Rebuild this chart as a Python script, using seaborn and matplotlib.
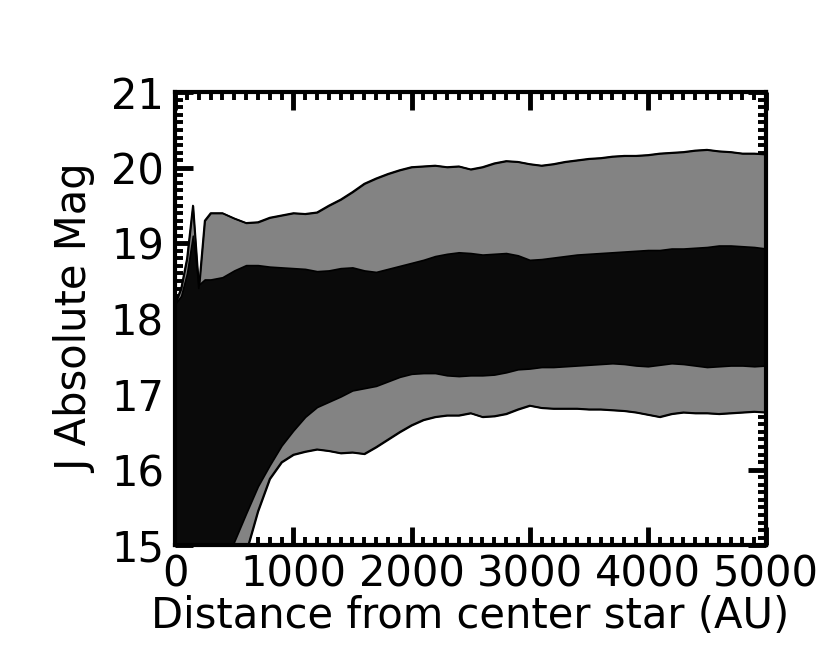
import numpy as np
import pandas as pd
import matplotlib
matplotlib.use("Agg")
import matplotlib.pyplot as plt
import seaborn as sns
from matplotlib.ticker import MultipleLocator

# Distância ao centro (AU) e limites das bandas de magnitude
distancia = [0, 50, 100, 150, 200, 250, 300, 400, 500, 600, 700, 800, 900,
             1000, 1100, 1200, 1300, 1400, 1500, 1600, 1700, 1800, 1900,
             2000, 2100, 2200, 2300, 2400, 2500, 2600, 2700, 2800, 2900,
             3000, 3100, 3200, 3300, 3400, 3500, 3600, 3700, 3800, 3900,
             4000, 4100, 4200, 4300, 4400, 4500, 4600, 4700, 4800, 4900, 5000]

# banda externa (cinza) - limite superior
externa_sup = [18.2, 18.4, 18.8, 19.5, 18.4, 19.3, 19.40, 19.40, 19.33, 19.27,
               19.28, 19.34, 19.37, 19.40, 19.39, 19.41, 19.50, 19.58, 19.68,
               19.79, 19.86, 19.92, 19.97, 20.01, 20.02, 20.03, 20.01, 20.02,
               19.98, 20.01, 20.06, 20.09, 20.08, 20.05, 20.03, 20.05, 20.08,
               20.10, 20.12, 20.13, 20.15, 20.16, 20.16, 20.17, 20.19, 20.20,
               20.21, 20.23, 20.24, 20.22, 20.21, 20.19, 20.19, 20.18]

# banda interna (preta) - limite superior
interna_sup = [18.2, 18.3, 18.6, 19.1, 18.45, 18.52, 18.52, 18.55, 18.64, 18.71,
               18.71, 18.69, 18.68, 18.67, 18.66, 18.63, 18.64, 18.67, 18.68,
               18.64, 18.62, 18.66, 18.70, 18.74, 18.78, 18.83, 18.86, 18.88,
               18.87, 18.85, 18.86, 18.87, 18.84, 18.78, 18.79, 18.81, 18.83,
               18.85, 18.86, 18.87, 18.88, 18.89, 18.90, 18.91, 18.91, 18.93,
               18.93, 18.94, 18.95, 18.97, 18.97, 18.96, 18.95, 18.93]

# banda interna (preta) - limite inferior
interna_inf = [13.8, 13.9, 13.9, 14.0, 14.1, 14.2, 14.3, 14.6, 15.05, 15.42,
               15.78, 16.06, 16.32, 16.52, 16.70, 16.83, 16.90, 16.97, 17.05,
               17.08, 17.11, 17.17, 17.23, 17.27, 17.28, 17.28, 17.25, 17.24,
               17.25, 17.25, 17.26, 17.29, 17.33, 17.34, 17.36, 17.36, 17.37,
               17.38, 17.39, 17.40, 17.41, 17.40, 17.38, 17.37, 17.39, 17.41,
               17.40, 17.38, 17.36, 17.37, 17.38, 17.38, 17.37, 17.38]

# banda externa (cinza) - limite inferior
externa_inf = [13.5, 13.5, 13.6, 13.6, 13.7, 13.8, 13.9, 14.1, 14.4, 14.9,
               15.45, 15.88, 16.10, 16.20, 16.24, 16.27, 16.25, 16.22, 16.23,
               16.21, 16.30, 16.40, 16.50, 16.59, 16.66, 16.70, 16.72, 16.72,
               16.75, 16.70, 16.71, 16.74, 16.80, 16.85, 16.82, 16.81, 16.81,
               16.81, 16.80, 16.80, 16.79, 16.78, 16.76, 16.73, 16.70, 16.74,
               16.76, 16.75, 16.75, 16.74, 16.75, 16.76, 16.77, 16.76]

df = pd.DataFrame({
    "dist": distancia,
    "ext_sup": externa_sup,
    "ext_inf": externa_inf,
    "int_sup": interna_sup,
    "int_inf": interna_inf,
})

sns.set_theme(style="ticks")
plt.rcParams.update({
    "font.family": ["DejaVu Sans"],
    "font.size": 30,
    "text.color": "black",
    "axes.labelcolor": "black",
    "xtick.color": "black",
    "ytick.color": "black",
    "axes.edgecolor": "black",
})

fig = plt.figure(figsize=(8.3, 6.64), dpi=100)
ax = fig.add_axes([0.211, 0.179, 0.712, 0.682])

# banda externa cinza com contorno preto
ax.fill_between(df["dist"], df["ext_inf"], df["ext_sup"],
                facecolor="#838383", edgecolor="black", linewidth=1.2, zorder=1)
# banda interna preta
ax.fill_between(df["dist"], df["int_inf"], df["int_sup"],
                facecolor="#0a0a0a", edgecolor="black", linewidth=1.2, zorder=2)

for col in ["ext_sup", "ext_inf"]:
    sns.lineplot(x="dist", y=col, data=df, color="black", linewidth=1.2,
                 ax=ax, zorder=3)

ax.set_xlim(0, 5000)
ax.set_ylim(15, 21)
ax.xaxis.set_major_locator(MultipleLocator(1000))
ax.xaxis.set_minor_locator(MultipleLocator(100))
ax.yaxis.set_major_locator(MultipleLocator(1))
ax.yaxis.set_minor_locator(MultipleLocator(0.1))

ax.tick_params(which="both", direction="in", top=True, right=True,
               labelsize=30, colors="black")
ax.tick_params(which="major", length=13, width=3.5)
ax.tick_params(which="minor", length=6, width=2.8)
ax.tick_params(axis="y", which="major", pad=8)
ax.tick_params(axis="x", which="major", pad=6)

for s in ax.spines.values():
    s.set_color("black")
    s.set_linewidth(3)

ax.set_xlabel("Distance from center star (AU)", fontsize=30, labelpad=0,
              color="black")
ax.set_ylabel("J Absolute Mag", fontsize=30, labelpad=10, color="black")

fig.savefig("out.png", dpi=100)
plt.close(fig)
